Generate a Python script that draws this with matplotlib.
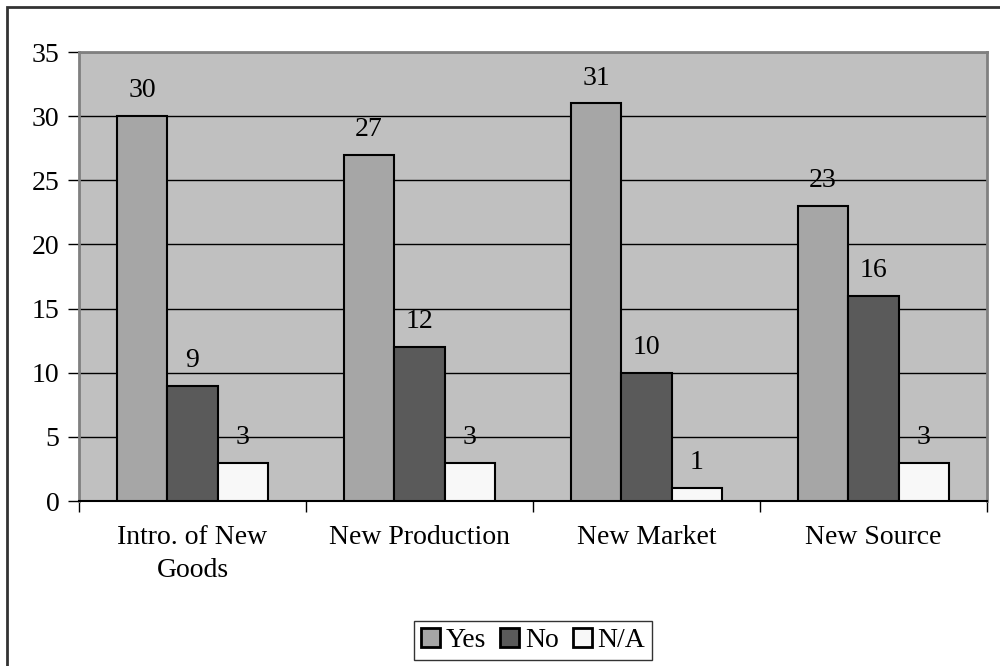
import matplotlib.pyplot as plt
import numpy as np
from matplotlib.patches import Rectangle

categories = ['Intro. of New\nGoods', 'New Production', 'New Market', 'New Source']
yes = [30, 27, 31, 23]
no = [9, 12, 10, 16]
na = [3, 3, 1, 3]
series_names = ['Yes', 'No', 'N/A']

plt.rcParams['font.family'] = ['Liberation Serif', 'DejaVu Serif']
plt.rcParams['font.size'] = 20

fig = plt.figure(figsize=(10, 6.66), dpi=100)
ax = fig.add_axes([0.079, 0.2477, 0.908, 0.6742])
ax.set_facecolor('#c0c0c0')

# outer frame, runs off the right and bottom edges
fig.patches.append(Rectangle((0.007, -0.1), 1.2, 1.0895, transform=fig.transFigure,
                             fill=False, edgecolor='#333333', linewidth=2, zorder=0))

x = np.arange(len(categories))
w = 0.222
colors = ['#a6a6a6', '#5a5a5a', '#f8f8f8']
for i, (vals, name, c) in enumerate(zip([yes, no, na], series_names, colors)):
    bars = ax.bar(x + (i - 1) * w, vals, w, color=c, edgecolor='black', linewidth=1.5,
                  label=name, zorder=3)
    for b, v in zip(bars, vals):
        ax.text(b.get_x() + b.get_width() / 2, v + 1.0, str(v), ha='center', va='bottom',
                fontsize=20)

ax.set_xlim(-0.5, 3.5)
ax.set_ylim(0, 35)
ax.set_yticks(range(0, 36, 5))
ax.yaxis.grid(True, color='black', linewidth=1)
ax.set_axisbelow(True)

ax.set_xticks(x)
ax.set_xticklabels(categories, linespacing=1.45)
ax.set_xticks(np.arange(-0.5, 4, 1), minor=True)
ax.tick_params(axis='x', which='major', length=0, pad=17)
ax.tick_params(axis='x', which='minor', length=8, width=1, direction='out')
ax.tick_params(axis='y', length=8, width=1, direction='out', pad=6)

for s in ['top', 'right', 'left']:
    ax.spines[s].set_color('#808080')
    ax.spines[s].set_linewidth(2)
ax.spines['bottom'].set_color('black')
ax.spines['bottom'].set_linewidth(1.5)

leg = ax.legend(loc='center', bbox_to_anchor=(0.5, -0.31), ncol=3, frameon=True,
                fancybox=False, edgecolor='black', handlelength=0.7, handleheight=0.7,
                handletextpad=0.2, columnspacing=0.5, borderpad=0.25, fontsize=20)
leg.get_frame().set_linewidth(1)
for h in leg.legend_handles:
    h.set_linewidth(2)

fig.savefig('out.png', dpi=100)
